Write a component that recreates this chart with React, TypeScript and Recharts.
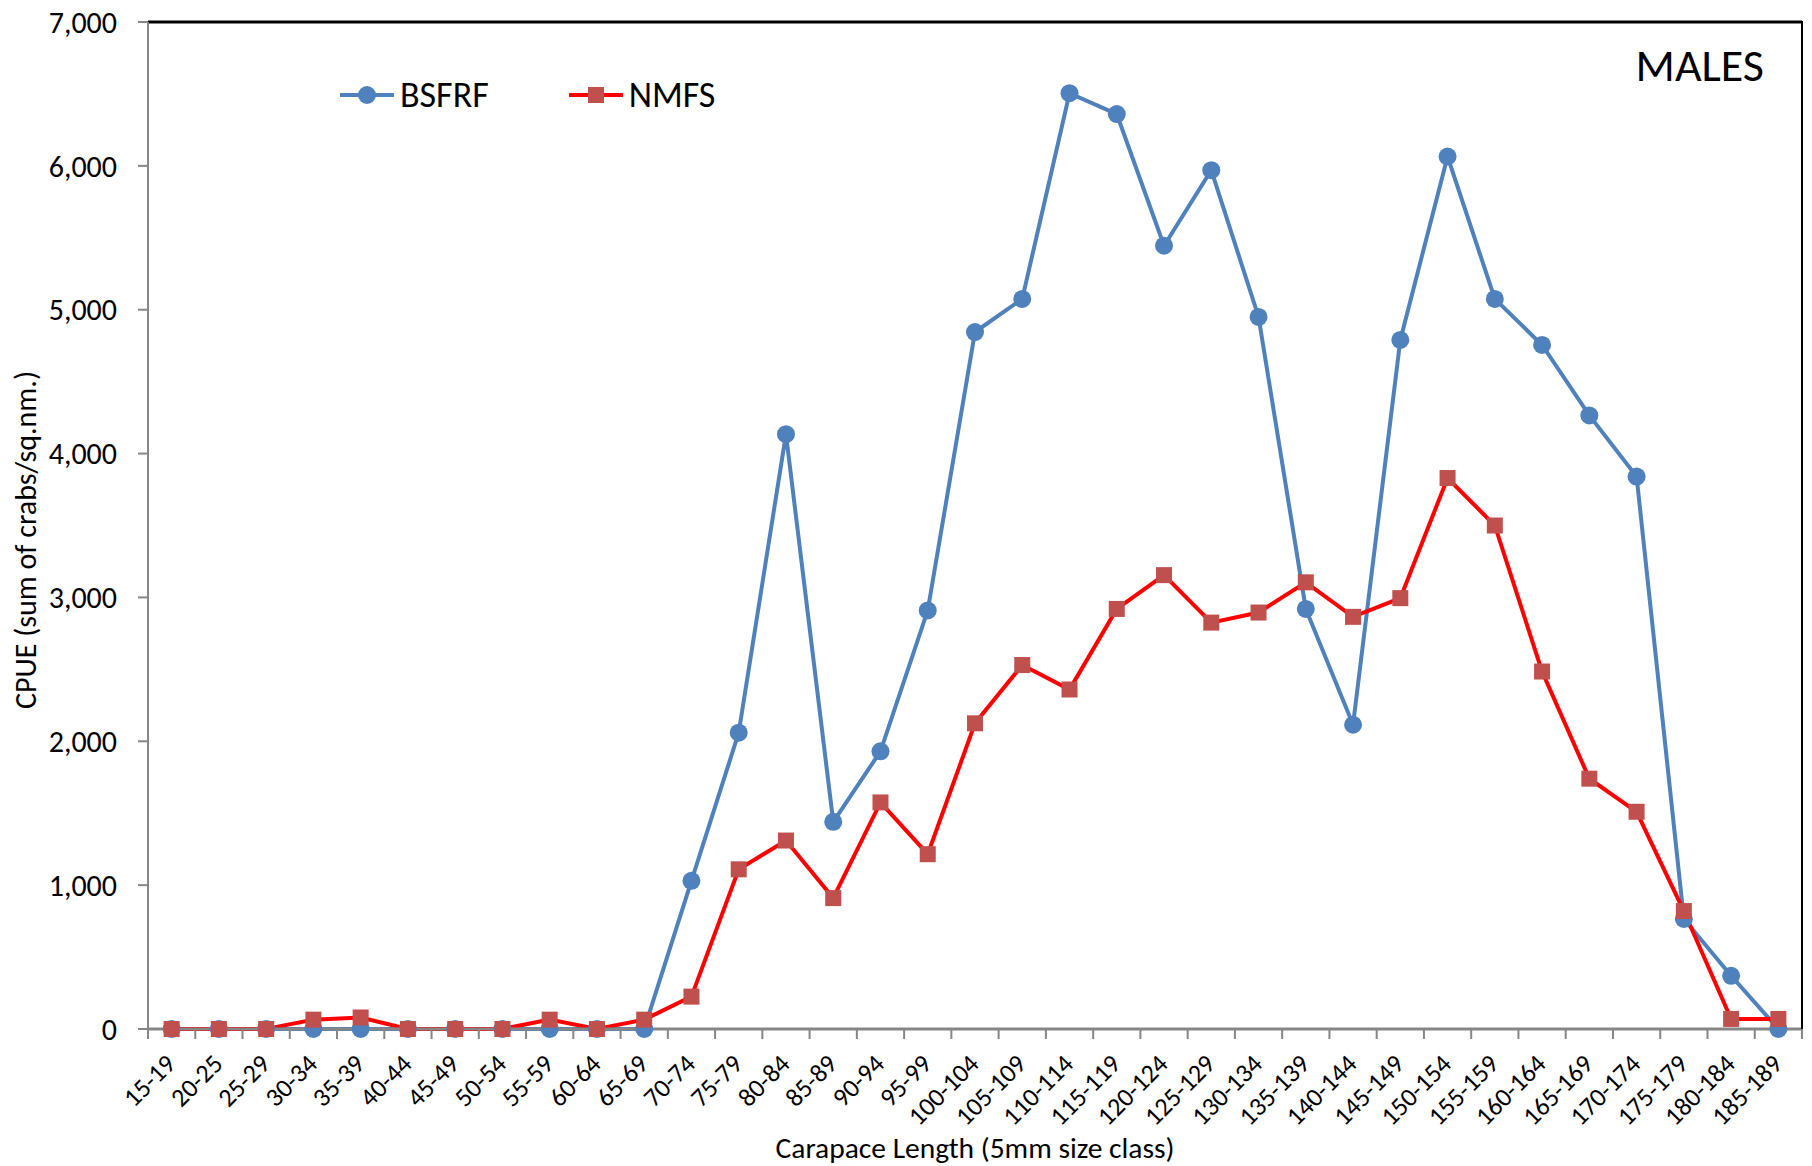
import React from "react";
import {
  LineChart,
  Line,
  XAxis,
  YAxis,
  Legend,
  ReferenceLine,
} from "recharts";

// CPUE by 5mm carapace-length class, males, two surveys
const sizeClasses = [
  "15-19", "20-25", "25-29", "30-34", "35-39", "40-44", "45-49", "50-54",
  "55-59", "60-64", "65-69", "70-74", "75-79", "80-84", "85-89", "90-94",
  "95-99", "100-104", "105-109", "110-114", "115-119", "120-124", "125-129",
  "130-134", "135-139", "140-144", "145-149", "150-154", "155-159",
  "160-164", "165-169", "170-174", "175-179", "180-184", "185-189",
];

const bsfrf = [
  0, 0, 0, 0, 0, 0, 0, 0, 0, 0, 0, 1030, 2060, 4135, 1440, 1930, 2910, 4845,
  5075, 6505, 6360, 5445, 5970, 4950, 2920, 2115, 4790, 6065, 5075, 4755,
  4265, 3840, 765, 370, 0,
];

const nmfs = [
  0, 0, 0, 65, 80, 0, 0, 0, 65, 0, 65, 225, 1110, 1310, 910, 1575, 1215, 2125,
  2530, 2360, 2920, 3155, 2825, 2895, 3105, 2865, 2995, 3830, 3500, 2485,
  1740, 1510, 820, 70, 70,
];

const yTicks = [0, 1000, 2000, 3000, 4000, 5000, 6000, 7000];

const data = sizeClasses.map((cls, i) => ({
  cls,
  BSFRF: bsfrf[i],
  NMFS: nmfs[i],
}));

const FONT = "Carlito, Calibri, Lato, sans-serif";
const BLUE = "#4F81BD";
const RED = "#FF0000";
const SQUARE = "#C0504D";
const AXIS = "#868686";

const W = 1812;
const H = 1166;
const PLOT_LEFT = 148;
const PLOT_RIGHT = 1802;
const PLOT_TOP = 22;
const PLOT_BOTTOM = 1029;
const BAND = (PLOT_RIGHT - PLOT_LEFT) / sizeClasses.length;

// excel-style category ticks sit between the classes, labels slanted
function XTick(props: any) {
  const { x, y, payload, index } = props;
  const tx = x - 1;
  const ty = y + 30;
  return (
    <g>
      <line x1={x - BAND / 2} y1={y} x2={x - BAND / 2} y2={y + 10} stroke={AXIS} strokeWidth={2} />
      {index === sizeClasses.length - 1 && (
        <line x1={x + BAND / 2} y1={y} x2={x + BAND / 2} y2={y + 10} stroke={AXIS} strokeWidth={2} />
      )}
      <text
        x={tx}
        y={ty}
        textAnchor="end"
        dominantBaseline="central"
        transform={`rotate(-45 ${tx} ${ty})`}
        fontSize={26}
        fontFamily={FONT}
        fill="#000"
      >
        {payload.value}
      </text>
    </g>
  );
}

function SquareDot(props: any) {
  const { cx, cy, index } = props;
  if (cx == null || cy == null) return <g key={`sq-${index}`} />;
  return <rect key={`sq-${index}`} x={cx - 8} y={cy - 8} width={16} height={16} fill={SQUARE} />;
}

function LegendBox() {
  const item = (name: string, color: string, square: boolean, gap: number) => (
    <div style={{ display: "flex", alignItems: "center", marginRight: gap }}>
      <svg width={54} height={20}>
        <line x1={1} y1={10} x2={53} y2={10} stroke={color} strokeWidth={4} strokeLinecap="round" />
        {square ? (
          <rect x={19} y={2} width={16} height={16} fill={SQUARE} />
        ) : (
          <circle cx={27} cy={10} r={9} fill={BLUE} />
        )}
      </svg>
      <span style={{ marginLeft: 6, fontSize: 36, lineHeight: "42px", fontFamily: FONT, color: "#000" }}>{name}</span>
    </div>
  );
  return (
    <div style={{ display: "flex", alignItems: "center" }}>
      {item("BSFRF", BLUE, false, 80)}
      {item("NMFS", RED, true, 0)}
    </div>
  );
}

export default function App() {
  const yMid = 540;
  return (
    <div style={{ position: "absolute", left: 0, top: 0, width: W, height: H, background: "#fff" }}>
      <LineChart
        width={W}
        height={H}
        data={data}
        margin={{ top: PLOT_TOP, right: W - PLOT_RIGHT, bottom: 0, left: 0 }}
      >
        <XAxis
          dataKey="cls"
          scale="band"
          height={H - PLOT_BOTTOM}
          interval={0}
          tickSize={0}
          tickMargin={0}
          tickLine={false}
          axisLine={{ stroke: AXIS, strokeWidth: 3 }}
          tick={<XTick />}
          label={{
            value: "Carapace Length (5mm size class)",
            content: () => (
              <text x={(PLOT_LEFT + PLOT_RIGHT) / 2} y={1158} textAnchor="middle" fontSize={29.5} fontFamily={FONT} fill="#000">
                Carapace Length (5mm size class)
              </text>
            ),
          }}
        />
        <YAxis
          width={PLOT_LEFT}
          domain={[0, 7000]}
          ticks={yTicks}
          interval={0}
          tickSize={10}
          tickMargin={21}
          tickLine={{ stroke: AXIS, strokeWidth: 2 }}
          axisLine={{ stroke: AXIS, strokeWidth: 2 }}
          tick={{ fontSize: 30, fontFamily: FONT, fill: "#000" }}
          tickFormatter={(v: number) => v.toLocaleString("en-US")}
          label={{
            value: "CPUE (sum of crabs/sq.nm.)",
            content: () => (
              <text
                x={25}
                y={yMid}
                textAnchor="middle"
                dominantBaseline="central"
                transform={`rotate(-90 25 ${yMid})`}
                fontSize={30}
                fontFamily={FONT}
                fill="#000"
              >
                CPUE (sum of crabs/sq.nm.)
              </text>
            ),
          }}
        />
        <ReferenceLine y={7000} stroke="#000" strokeWidth={3} />
        <Legend
          layout="horizontal"
          verticalAlign="middle"
          align="center"
          content={() => <LegendBox />}
          wrapperStyle={{ position: "absolute", left: 340, top: 74, width: "auto" }}
        />
        <Line
          type="linear"
          dataKey="BSFRF"
          stroke={BLUE}
          strokeWidth={4}
          dot={{ r: 9, fill: BLUE, stroke: BLUE, strokeWidth: 0 }}
          activeDot={false}
          isAnimationActive={false}
        />
        <Line
          type="linear"
          dataKey="NMFS"
          stroke={RED}
          strokeWidth={4}
          dot={<SquareDot />}
          activeDot={false}
          isAnimationActive={false}
        />
      </LineChart>
      {/* right edge of the plot frame and the panel tag */}
      <div
        style={{
          position: "absolute",
          left: PLOT_RIGHT - 1,
          top: PLOT_TOP - 1,
          width: 2,
          height: PLOT_BOTTOM - PLOT_TOP + 1,
          background: "#000",
        }}
      />
      <div
        style={{
          position: "absolute",
          right: W - 1764,
          top: 39,
          fontSize: 46,
          lineHeight: "52px",
          fontFamily: FONT,
          color: "#000",
        }}
      >
        MALES
      </div>
    </div>
  );
}
